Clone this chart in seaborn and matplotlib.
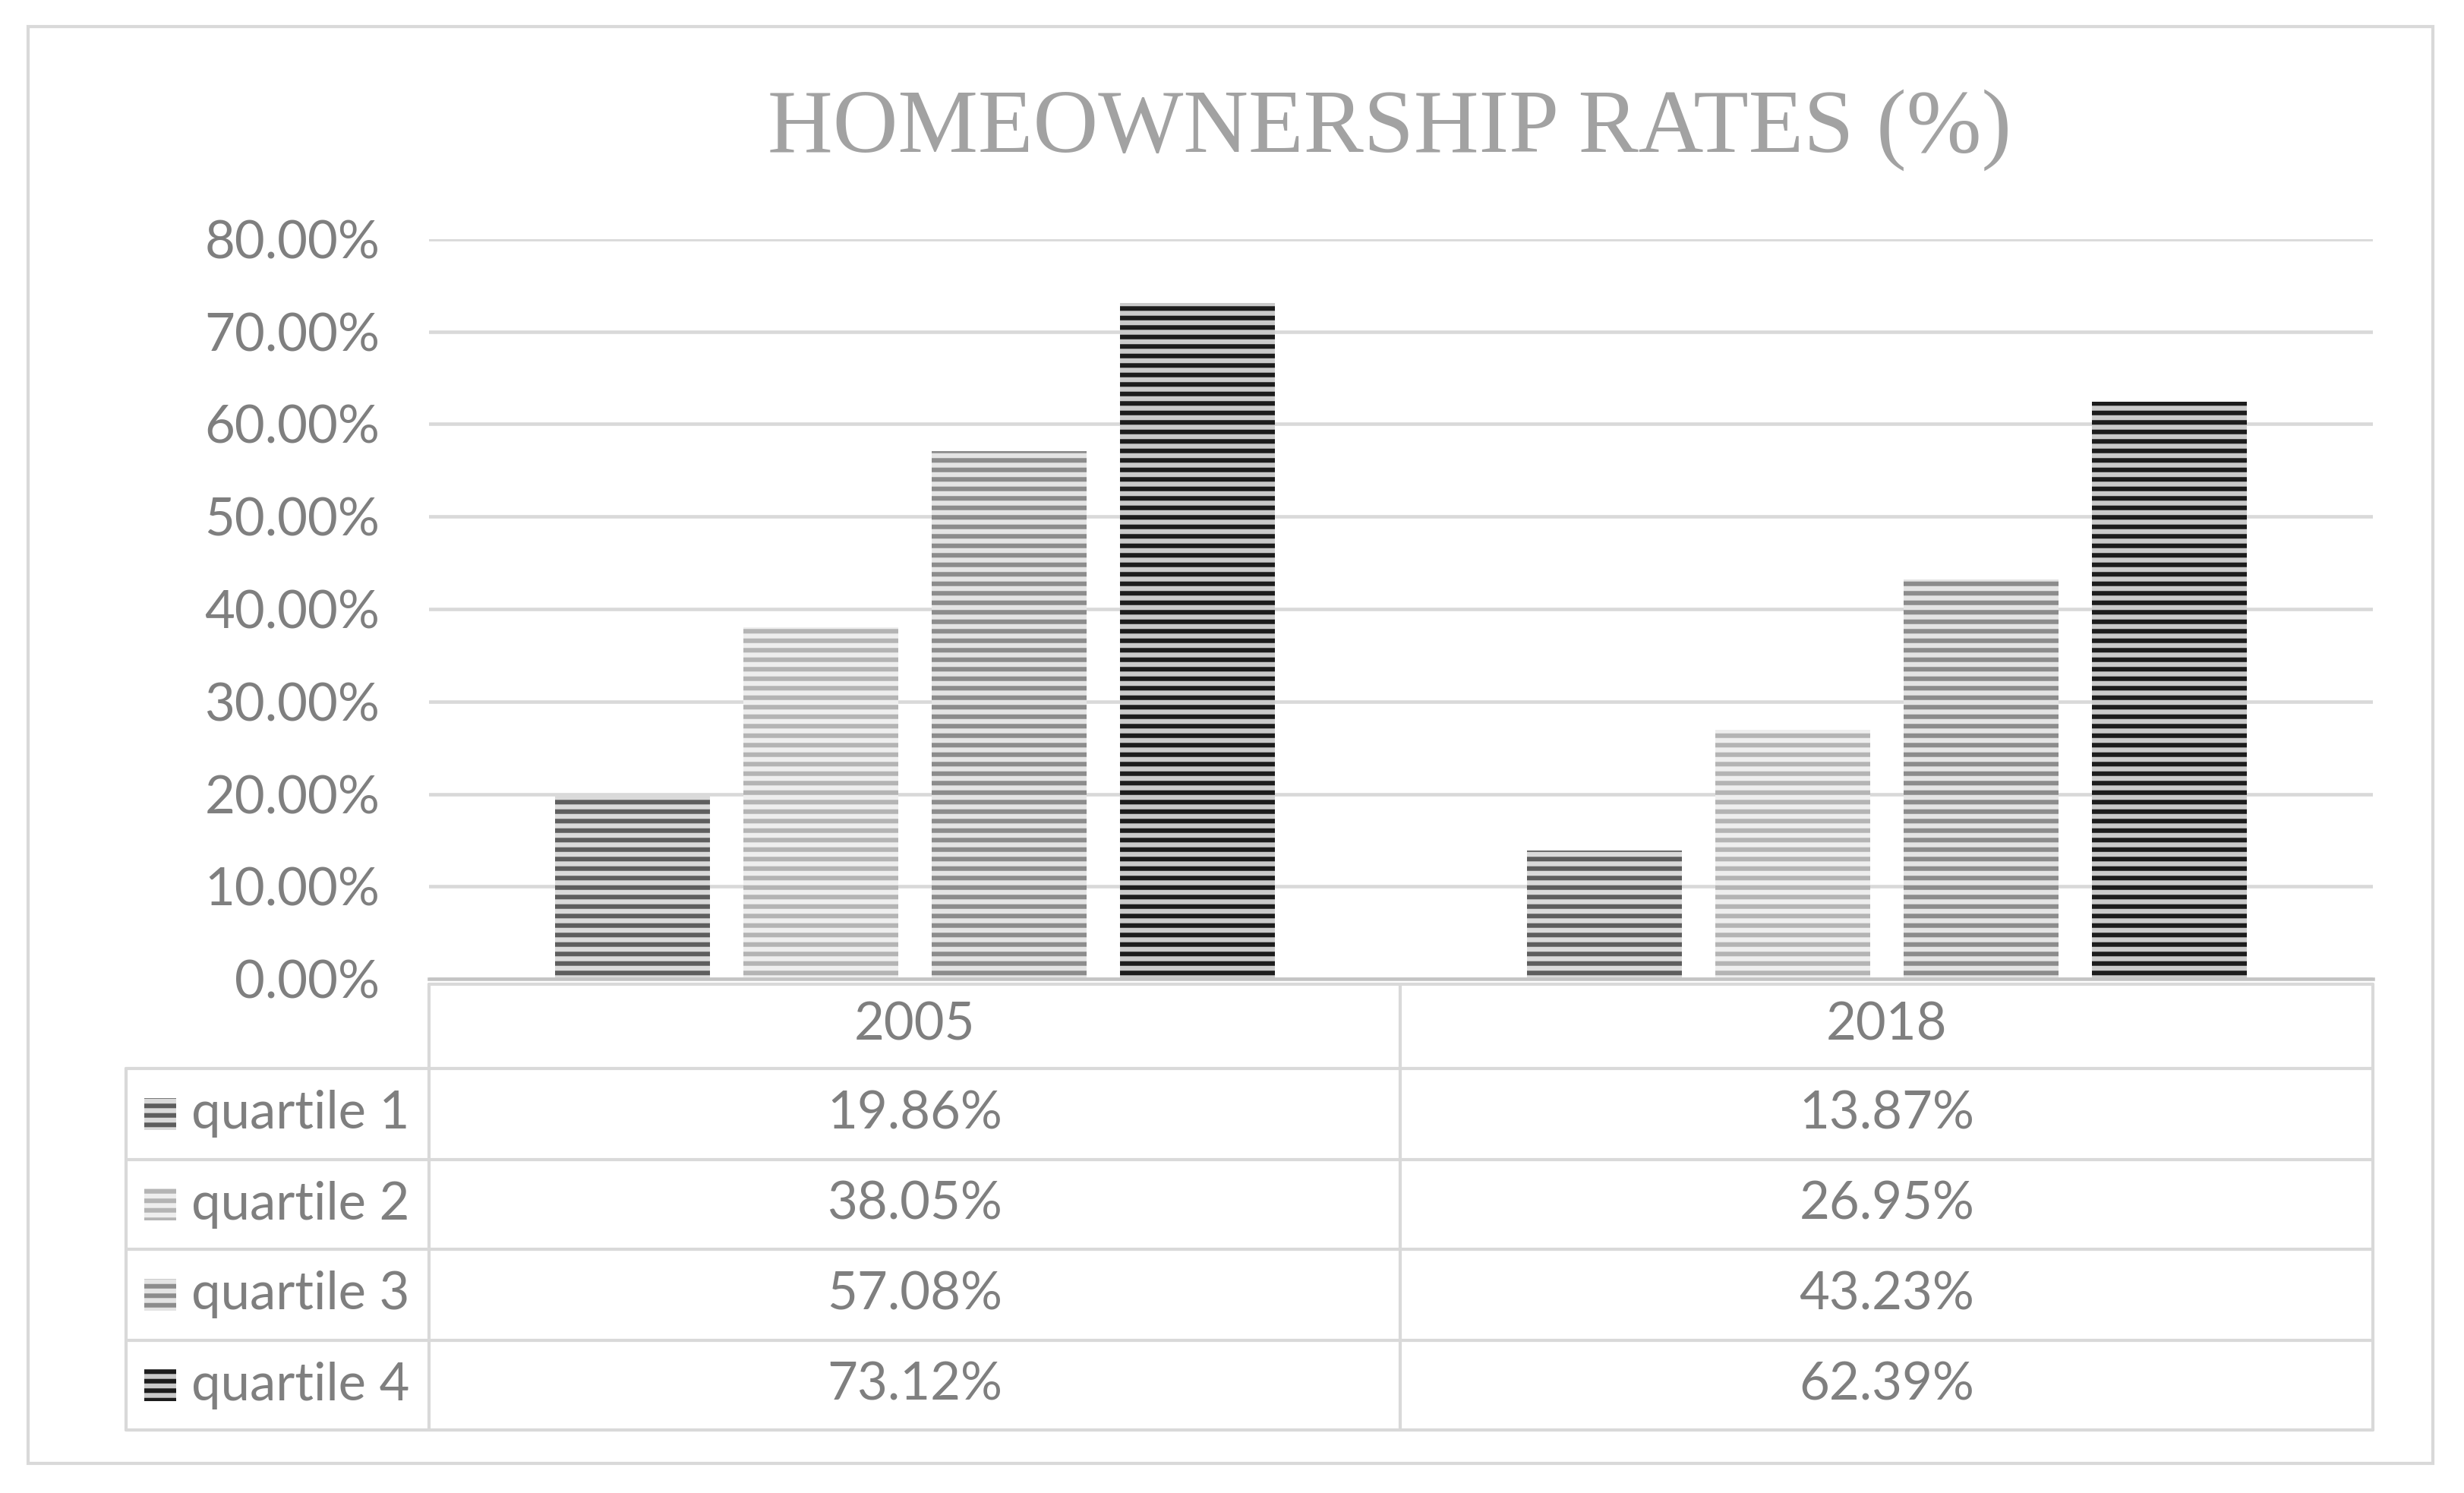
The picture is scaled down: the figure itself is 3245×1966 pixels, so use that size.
import pandas as pd
import seaborn as sns
import matplotlib.pyplot as plt
from matplotlib.lines import Line2D
from matplotlib.patches import Rectangle
from matplotlib.transforms import blended_transform_factory

years = ['2005', '2018']
quartiles = ['quartile 1', 'quartile 2', 'quartile 3', 'quartile 4']
rates_2005 = [19.86, 38.05, 57.08, 73.12]
rates_2018 = [13.87, 26.95, 43.23, 62.39]
yticks = [0, 10, 20, 30, 40, 50, 60, 70, 80]

# face colour + stripe colour per quartile
faces = ['#dadada', '#eeeeee', '#e4e4e4', '#cacaca']
stripes = ['#5e5e5e', '#b4b4b4', '#8c8c8c', '#1c1c1c']

rows = []
for y, vals in zip(years, [rates_2005, rates_2018]):
    for q, v in zip(quartiles, vals):
        rows.append({'year': y, 'quartile': q, 'rate': v})
datos = pd.DataFrame(rows)

W, H, DPI = 3245, 1966, 150


def fx(px):
    return px / W


def fy(py):
    return 1 - py / H


sns.set_theme(style='white')
plt.rcParams['font.family'] = ['Lato', 'DejaVu Sans']
plt.rcParams['hatch.linewidth'] = 2.9

txt = '#7f7f7f'
line_c = '#d9d9d9'
fs = 33

fig = plt.figure(figsize=(W / DPI, H / DPI), dpi=DPI)
ax = fig.add_axes([fx(565), fy(1289), fx(3125) - fx(565), fy(315) - fy(1289)])

sns.barplot(data=datos, x='year', y='rate', hue='quartile', hue_order=quartiles,
            palette=faces, width=0.775, gap=0.18, errorbar=None,
            legend=False, ax=ax)

for i, cont in enumerate(ax.containers):
    for bar in cont:
        bar.set_facecolor(faces[i])
        bar.set_edgecolor(stripes[i])
        bar.set_hatch('--')
        bar.set_linewidth(0)

ax.set_ylim(0, 80)
ax.set_xlim(-0.5, 1.5)
ax.set_yticks(yticks)
ax.set_yticklabels(['%.2f%%' % t for t in yticks], color=txt, fontsize=fs)
ax.tick_params(axis='y', length=0, pad=31)
ax.set_xticks([])
ax.set_xlabel('')
ax.set_ylabel('')
ax.set_axisbelow(True)
ax.yaxis.grid(True, color=line_c, lw=2.2)
for s in ['top', 'left', 'right']:
    ax.spines[s].set_visible(False)
ax.spines['bottom'].set_color('#c4c4c4')
ax.spines['bottom'].set_linewidth(2.2)

# title
fig.text(fx(1830), fy(171), 'HOMEOWNERSHIP RATES (%)', ha='center', va='center',
         family='Liberation Serif', fontsize=57, color='#a2a2a2')

# data table under the chart
lw = 2.0
row_lines = [1407, 1527, 1645, 1765, 1883]
fig.add_artist(Line2D([fx(565), fx(3125)], [fy(1296), fy(1296)], color=line_c, lw=lw))
for yl in row_lines:
    fig.add_artist(Line2D([fx(166), fx(3125)], [fy(yl), fy(yl)], color=line_c, lw=lw))
for xl in [565, 1844, 3125]:
    fig.add_artist(Line2D([fx(xl), fx(xl)], [fy(1296), fy(1883)], color=line_c, lw=lw))
fig.add_artist(Line2D([fx(166), fx(166)], [fy(1407), fy(1883)], color=line_c, lw=lw))

# outer chart border
fig.add_artist(Rectangle((fx(37), fy(1927)), fx(3204) - fx(37), fy(35) - fy(1927),
                         fill=False, edgecolor=line_c, lw=lw))

tr = blended_transform_factory(ax.transData, fig.transFigure)
for i, y in enumerate(years):
    ax.text(i, fy(1350), y, transform=tr, ha='center', va='center',
            fontsize=fs, color=txt)

centers = [(row_lines[k] + row_lines[k + 1]) / 2 for k in range(4)]
for k, q in enumerate(quartiles):
    cy = centers[k]
    for i, vals in enumerate([rates_2005, rates_2018]):
        ax.text(i, fy(cy), '%.2f%%' % vals[k], transform=tr, ha='center',
                va='center', fontsize=fs, color=txt)
    fig.add_artist(Rectangle((fx(190), fy(cy + 21)), fx(232) - fx(190),
                             fy(cy - 21) - fy(cy + 21), facecolor=faces[k],
                             edgecolor=stripes[k], hatch='--', lw=0))
    fig.text(fx(252), fy(cy), q, ha='left', va='center', fontsize=fs, color=txt)

fig.savefig('out.png', dpi=DPI, facecolor='white')
